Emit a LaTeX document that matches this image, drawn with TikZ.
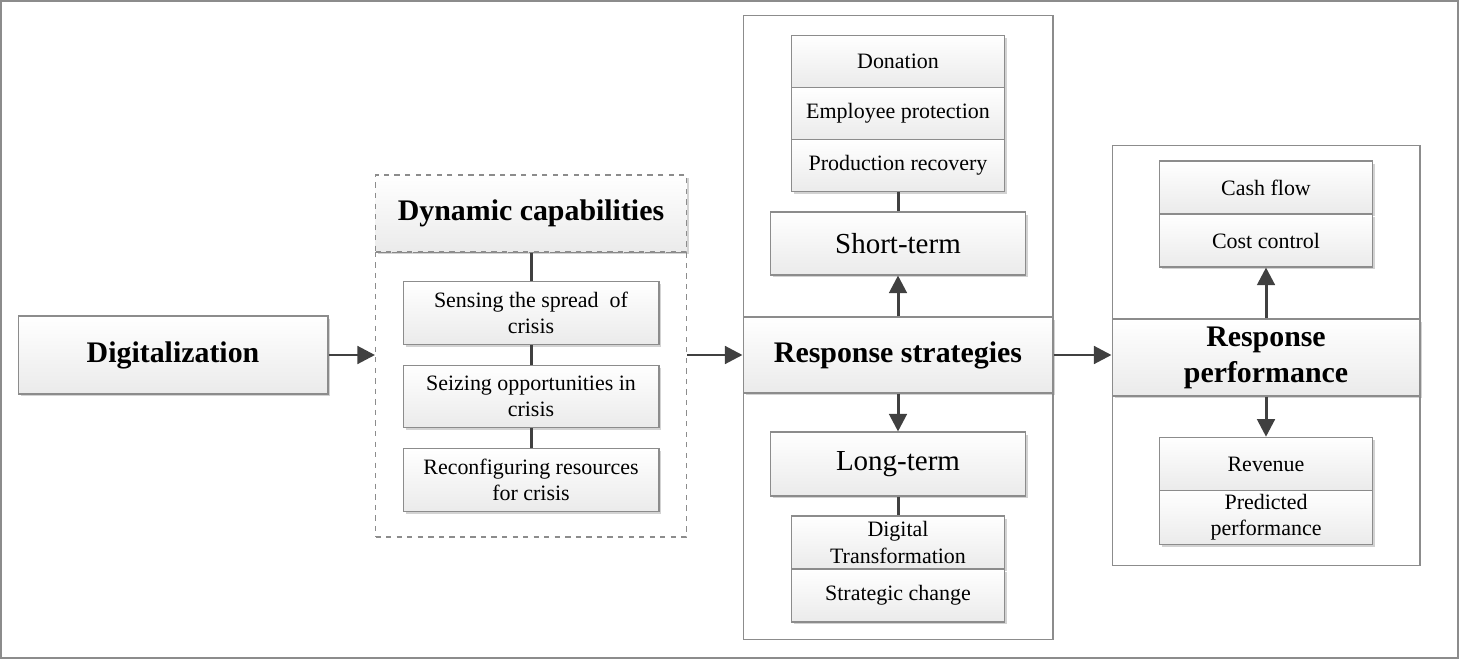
\documentclass[tikz,border=0pt]{standalone}
\usepackage{fontspec}
\setmainfont{Liberation Serif}
\usepackage{tikz}
\usetikzlibrary{
	arrows.meta,
	positioning,
	shadows
}
\usepackage{xcolor}
\definecolor{linegray}{HTML}{404040}
\definecolor{boxgray}{HTML}{8C8C8C}

\begin{document}
\begin{tikzpicture}[x=0.02cm,y=-0.02cm,>={Triangle[length=10pt,width=10pt]},
	box/.style={draw=boxgray,line width=0.6pt,top color=white,bottom color=gray!16,
		drop shadow={shadow xshift=0.5mm,shadow yshift=-0.5mm,fill=gray,opacity=0.35},
		align=center,inner sep=2pt},
	small/.style={box,font=\fontsize{12.5}{15}\selectfont},
	big/.style={box,font=\fontsize{16.5}{20}\selectfont},
	bigbold/.style={box,font=\fontsize{17}{20.5}\selectfont\bfseries},
	frame/.style={draw=boxgray,line width=0.6pt},
	flow/.style={->,line width=1.7pt,draw=linegray},
	link/.style={line width=1.7pt,draw=linegray}]
		
		\useasboundingbox (0,0) rectangle (1460,662);
		\draw[frame] (1,1) rectangle (1458,658);
		
		% Digitalization
		\node[bigbold,minimum width=6.2cm,minimum height=1.56cm] (dig) at (173,355){Digitalization};
		
		% Dynamic capabilities
		\node[frame,dashed,minimum width=6.22cm,minimum height=5.7cm] (dynbody) at (531,394.5){};
		\node[bigbold,dashed,drop shadow={opacity=0},minimum width=6.22cm,minimum height=1.54cm] (dyn) at (531,213.5){Dynamic capabilities};
		
		\node[small,minimum width=5.12cm,minimum height=1.25cm] (sense) at (531,313){Sensing the spread\ \ of\\crisis};
		\node[small,minimum width=5.12cm,minimum height=1.25cm] (seize) at (531,396.5){Seizing opportunities in\\crisis};
		\node[small,minimum width=5.12cm,minimum height=1.25cm] (reconf) at (531,480){Reconfiguring resources\\for crisis};
		
		\draw[link] (dyn.south) -- (sense.north);
		\draw[link] (sense.south) -- (seize.north);
		\draw[link] (seize.south) -- (reconf.north);
		
		% Response strategies
		\node[frame,fill=white,minimum width=6.2cm,minimum height=12.5cm] (stratbody) at (898,327.5){};
		\node[bigbold,minimum width=6.2cm,minimum height=1.52cm] (strat) at (898,355){Response strategies};
		
		\node[big,minimum width=5.1cm,minimum height=1.26cm] (short) at (898,243.5){Short-term};
		\node[big,minimum width=5.1cm,minimum height=1.28cm] (long) at (898,464){Long-term};
		
		\node[small,minimum width=4.26cm,minimum height=1.04cm] (donat) at (898,61.5){Donation};
		\node[small,minimum width=4.26cm,minimum height=1.04cm] (employ) at (898,113.5){Employee protection};
		\node[small,minimum width=4.26cm,minimum height=1.04cm] (produc) at (898,165.5){Production recovery};
		
		\node[small,minimum width=4.26cm,minimum height=1.06cm] (digtrans) at (898,542.5){Digital\\Transformation};
		\node[small,minimum width=4.26cm,minimum height=1.06cm] (stratchg) at (898,595.5){Strategic change};
		
		\draw[flow] (strat.north) -- (short.south);
		\draw[link] (short.north) -- (produc.south);
		\draw[flow] (strat.south) -- (long.north);
		\draw[link] (long.south) -- (digtrans.north);
		
		% Response performance
		\node[frame,fill=white,minimum width=6.16cm,minimum height=8.42cm] (perfbody) at (1266,355.5){};
		\node[bigbold,minimum width=6.16cm,minimum height=1.54cm] (perf) at (1266,357.5){Response\\performance};
		
		\node[small,minimum width=4.26cm,minimum height=1.06cm] (cash) at (1266,187.5){Cash flow};
		\node[small,minimum width=4.26cm,minimum height=1.06cm] (cost) at (1266,240.5){Cost control};
		\node[small,minimum width=4.26cm,minimum height=1.07cm] (revenue) at (1266,464){Revenue};
		\node[small,minimum width=4.26cm,minimum height=1.07cm] (predict) at (1266,517.5){Predicted\\performance};
		
		\draw[flow] (perf.north) -- (cost.south);
		\draw[flow] (perf.south) -- (revenue.north);
		
		% main flow
		\draw[flow] (dig.east) -- (dig.east -| dynbody.west);
		\draw[flow] (dynbody.east |- strat.west) -- (strat.west);
		\draw[flow] (strat.east) -- (strat.east -| perfbody.west);
		
	\end{tikzpicture}
\end{document}
